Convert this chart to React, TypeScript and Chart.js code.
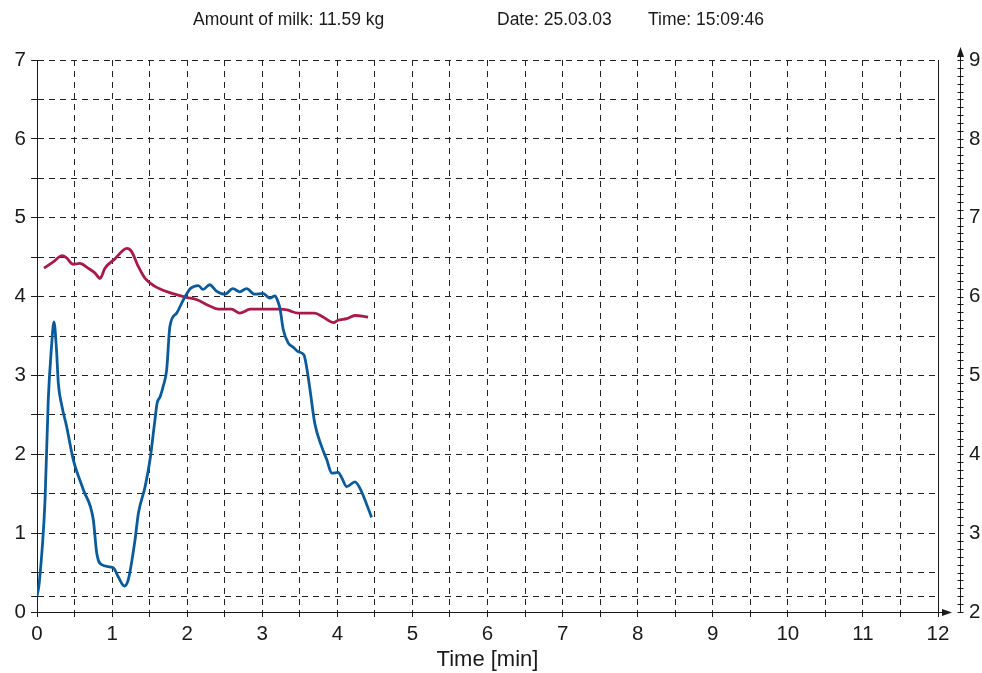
import React, { useEffect, useRef } from 'react';
import { Chart, registerables } from 'chart.js';

Chart.register(...registerables);

const FONT = '"Liberation Sans", Arial, Helvetica, sans-serif';
const INK = '#1a1a1a';

// Header texts
const headerTexts = ['Amount of milk: 11.59 kg', 'Date: 25.03.03', 'Time: 15:09:46'];
const xTitle = 'Time [min]';

// Blue series (left axis)
const flowTimes = [
  0.0, 0.03, 0.107, 0.15, 0.19, 0.226, 0.26, 0.284, 0.33, 0.395, 0.484, 0.617, 0.75, 0.795, 0.86,
  1.016, 1.08, 1.163, 1.216, 1.305, 1.35, 1.44, 1.505, 1.57, 1.6, 1.64, 1.68, 1.727, 1.77, 1.86, 1.95,
  2.04, 2.15, 2.21, 2.3, 2.39, 2.5, 2.61, 2.7, 2.79, 2.9, 3.01, 3.1, 3.17, 3.2, 3.236, 3.28, 3.347,
  3.41, 3.48, 3.556, 3.59, 3.636, 3.7, 3.79, 3.86, 3.925, 4.01, 4.06, 4.125, 4.235, 4.3, 4.457,
];
const flowValues = [
  0.2, 0.37, 1.42, 2.69, 3.32, 3.68, 3.32, 2.9, 2.62, 2.35, 1.93, 1.55, 1.17, 0.75, 0.6,
  0.56, 0.45, 0.33, 0.41, 0.91, 1.25, 1.59, 1.93, 2.43, 2.65, 2.73, 2.86, 3.07, 3.62, 3.79, 3.96,
  4.1, 4.14, 4.09, 4.15, 4.07, 4.03, 4.1, 4.06, 4.1, 4.03, 4.04, 3.98, 4.01, 3.96, 3.85, 3.58, 3.41,
  3.36, 3.3, 3.26, 3.11, 2.82, 2.39, 2.1, 1.93, 1.76, 1.77, 1.7, 1.59, 1.65, 1.57, 1.2,
];

// Red series (right axis)
const condTimes = [
  0.093, 0.217, 0.337, 0.395, 0.48, 0.57, 0.68, 0.77, 0.84, 0.905, 1.04, 1.15, 1.2, 1.26, 1.35, 1.44,
  1.57, 1.77, 1.99, 2.13, 2.3, 2.415, 2.59, 2.7, 2.84, 3.24, 3.33, 3.48, 3.7, 3.81, 3.95, 4.01, 4.125,
  4.235, 4.41,
];
const condValues = [
  6.36, 6.44, 6.52, 6.49, 6.41, 6.42, 6.36, 6.3, 6.23, 6.36, 6.48, 6.59, 6.61, 6.57, 6.38, 6.23,
  6.13, 6.05, 5.99, 5.96, 5.88, 5.84, 5.84, 5.79, 5.84, 5.84, 5.83, 5.79, 5.79, 5.74, 5.67, 5.7, 5.72,
  5.76, 5.74,
];

// Tick values
const xTicks = [0, 0.5, 1, 1.5, 2, 2.5, 3, 3.5, 4, 4.5, 5, 5.5, 6, 6.5, 7, 7.5, 8, 8.5, 9, 9.5, 10, 10.5, 11, 11.5, 12];
const yLeftTicks = [0, 0.2, 0.5, 1, 1.5, 2, 2.5, 3, 3.5, 4, 4.5, 5, 5.5, 6, 6.5, 7];
const yRightTicks = [2, 3, 4, 5, 6, 7, 8, 9];

const isInt = (v: number) => Math.abs(v - Math.round(v)) < 1e-9;

const decorPlugin = {
  id: 'decor',
  afterDraw(chart: any) {
    const { ctx, chartArea, scales } = chart;
    const y2 = scales.y2;
    ctx.save();
    // header
    ctx.fillStyle = INK;
    ctx.font = `17.5px ${FONT}`;
    ctx.textBaseline = 'middle';
    ctx.textAlign = 'left';
    const hx = [193, 497, 648];
    headerTexts.forEach((t, i) => ctx.fillText(t, hx[i], 20));

    // right axis line with arrow and minor ticks
    ctx.strokeStyle = INK;
    ctx.lineWidth = 1;
    const ax = 960.5;
    const yb = y2.getPixelForValue(2);
    const yt = y2.getPixelForValue(9);
    ctx.beginPath();
    ctx.moveTo(ax, yb);
    ctx.lineTo(ax, yt - 6);
    ctx.stroke();
    ctx.fillStyle = INK;
    ctx.beginPath();
    ctx.moveTo(ax, yt - 13);
    ctx.lineTo(ax - 3.5, yt - 3);
    ctx.lineTo(ax + 3.5, yt - 3);
    ctx.closePath();
    ctx.fill();
    for (let i = 20; i <= 90; i++) {
      const py = Math.round(y2.getPixelForValue(i / 10)) + 0.5;
      ctx.beginPath();
      ctx.moveTo(ax - 3, py);
      ctx.lineTo(ax + 3, py);
      ctx.stroke();
    }

    // x axis arrow extension
    const x0 = chartArea.right;
    const yA = Math.round(chartArea.bottom) + 0.5;
    ctx.beginPath();
    ctx.moveTo(x0, yA);
    ctx.lineTo(x0 + 7, yA);
    ctx.stroke();
    ctx.beginPath();
    ctx.moveTo(x0 + 14, yA);
    ctx.lineTo(x0 + 4, yA - 3.5);
    ctx.lineTo(x0 + 4, yA + 3.5);
    ctx.closePath();
    ctx.fill();
    ctx.restore();
  },
};

export default function App() {
  const canvasRef = useRef<HTMLCanvasElement | null>(null);

  useEffect(() => {
    if (!canvasRef.current) return;
    const tickFont = { size: 20.5, family: FONT };
    const gridDash = [6, 5];
    const gridColor = '#222222';
    const chart = new Chart(canvasRef.current, {
      type: 'line',
      data: {
        datasets: [
          {
            label: 'flow',
            data: flowTimes.map((t, i) => ({ x: t, y: flowValues[i] })),
            borderColor: '#0b5b9b',
            borderWidth: 2.8,
            pointRadius: 0,
            cubicInterpolationMode: 'monotone',
            yAxisID: 'y',
            fill: false,
          },
          {
            label: 'conductivity',
            data: condTimes.map((t, i) => ({ x: t, y: condValues[i] })),
            borderColor: '#a81a4c',
            borderWidth: 2.8,
            pointRadius: 0,
            cubicInterpolationMode: 'monotone',
            yAxisID: 'y2',
            fill: false,
          },
        ],
      },
      options: {
        animation: false,
        responsive: false,
        maintainAspectRatio: false,
        layout: { padding: { top: 60, left: 0, right: 0, bottom: 0 } },
        plugins: {
          legend: { display: false },
          tooltip: { enabled: false },
          title: { display: false },
        },
        scales: {
          x: {
            type: 'linear',
            min: 0,
            max: 12,
            afterBuildTicks: (s: any) => {
              s.ticks = xTicks.map((v) => ({ value: v }));
            },
            afterFit: (s: any) => {
              s.height = 61;
            },
            ticks: {
              autoSkip: false,
              maxRotation: 0,
              padding: 5,
              color: INK,
              font: tickFont,
              callback: (v: any) => (isInt(Number(v)) ? String(v) : ''),
            },
            grid: { color: gridColor, lineWidth: 1, tickLength: 5, tickColor: INK },
            border: { display: true, color: INK, width: 1, dash: gridDash },
            title: {
              display: true,
              text: xTitle,
              color: INK,
              font: { size: 22, family: FONT },
              padding: { top: 0, bottom: 0 },
            },
          },
          y: {
            type: 'linear',
            position: 'left',
            min: 0,
            max: 7,
            afterBuildTicks: (s: any) => {
              s.ticks = yLeftTicks.map((v) => ({ value: v }));
            },
            afterFit: (s: any) => {
              s.width = 37;
            },
            ticks: {
              autoSkip: false,
              padding: 5,
              color: INK,
              font: tickFont,
              callback: (v: any) => (isInt(Number(v)) ? String(v) : ''),
            },
            grid: { color: gridColor, lineWidth: 1, tickLength: 6, tickColor: INK },
            border: { display: true, color: INK, width: 1, dash: gridDash },
          },
          y2: {
            type: 'linear',
            position: 'right',
            min: 2,
            max: 9,
            afterBuildTicks: (s: any) => {
              s.ticks = yRightTicks.map((v) => ({ value: v }));
            },
            afterFit: (s: any) => {
              s.width = 44;
            },
            ticks: {
              autoSkip: false,
              padding: 31,
              color: INK,
              font: tickFont,
              callback: (v: any) => String(v),
            },
            grid: { display: false, drawTicks: false, drawOnChartArea: false },
            border: { display: true, color: INK, width: 1 },
          },
        },
      },
      plugins: [decorPlugin],
    } as any);
    return () => chart.destroy();
  }, []);

  return (
    <div style={{ position: 'fixed', left: 0, top: 0, width: 982, height: 673, background: '#fff' }}>
      <canvas ref={canvasRef} width={982} height={673} style={{ display: 'block' }} />
    </div>
  );
}
